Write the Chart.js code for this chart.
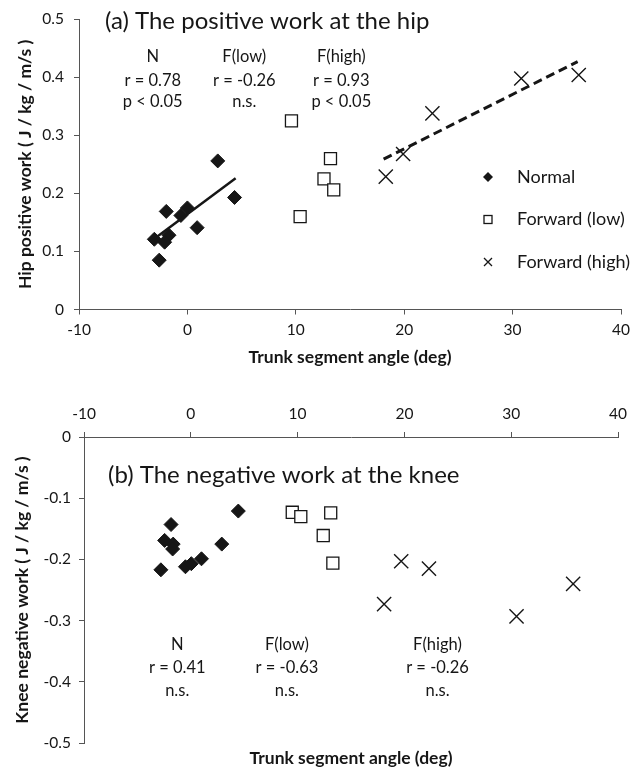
<!DOCTYPE html>
<html>
<head>
<meta charset="utf-8">
<script src="https://cdn.jsdelivr.net/npm/chart.js@4/dist/chart.umd.min.js"></script>
<style>
  body { margin: 0; background: #fff; overflow: hidden; }
  .container1 { position: absolute; left: 0; top: 0; width: 640px; height: 372px; }
  .container2 { position: absolute; left: 0; top: 372px; width: 640px; height: 396px; }
</style>
</head>
<body>
<div class="container1"><canvas class="container1__chart"></canvas></div>
<div class="container2"><canvas class="container2__chart"></canvas></div>
<script>
// ---- data ----
const xTicks = [-10, 0, 10, 20, 30, 40];
const hipTicks = [0, 0.1, 0.2, 0.3, 0.4, 0.5];
const kneeTicks = [-0.5, -0.4, -0.3, -0.2, -0.1, 0];

// (a) hip positive work
const hipNormalX = [2.8, 4.35, -1.95, 0.0, -0.6, 0.9, -3.05, -1.7, -2.1, -2.6];
const hipNormalY = [0.256, 0.193, 0.169, 0.175, 0.162, 0.141, 0.121, 0.128, 0.116, 0.085];
const hipLowX = [9.6, 13.2, 12.6, 13.5, 10.4];
const hipLowY = [0.325, 0.260, 0.225, 0.206, 0.160];
const hipHighX = [18.3, 19.9, 22.6, 30.8, 36.1];
const hipHighY = [0.229, 0.268, 0.338, 0.398, 0.404];
const hipNormalFitX = [-3.05, 4.45];
const hipNormalFitY = [0.122, 0.226];
const hipHighFitX = [18.1, 36.0];
const hipHighFitY = [0.259, 0.427];

// (b) knee negative work
const kneeNormalX = [4.45, -1.85, -2.45, -1.65, -1.7, -2.8, -0.5, 0.05, 1.0, 2.9];
const kneeNormalY = [-0.121, -0.143, -0.169, -0.175, -0.183, -0.217, -0.212, -0.207, -0.199, -0.175];
const kneeLowX = [9.5, 10.3, 13.1, 12.4, 13.3];
const kneeLowY = [-0.123, -0.130, -0.124, -0.161, -0.206];
const kneeHighX = [19.7, 22.3, 18.1, 30.5, 35.8];
const kneeHighY = [-0.203, -0.215, -0.273, -0.293, -0.240];

// statistics text
const groupNames = ['N', 'F(low)', 'F(high)'];
const hipStats = [['r = 0.78', 'p < 0.05'], ['r = -0.26', 'n.s.'], ['r = 0.93', 'p < 0.05']];
const kneeStats = [['r = 0.41', 'n.s.'], ['r = -0.63', 'n.s.'], ['r = -0.26', 'n.s.']];
const legendNames = ['Normal', 'Forward (low)', 'Forward (high)'];

// ---- helpers ----
const ink = '#161616';
const axisColor = '#555';
Chart.defaults.font.family = 'Lato, "Open Sans", sans-serif';
Chart.defaults.color = ink;

const pts = (xs, ys) => xs.map((v, i) => ({x: v, y: ys[i]}));
const setTicks = list => scale => { scale.ticks = list.map(v => ({value: v})); };

function groupSets(nx, ny, lx, ly, hx, hy) {
  return [
    {label: legendNames[0], data: pts(nx, ny), pointStyle: 'rectRot', pointRadius: 7,
     backgroundColor: ink, borderColor: ink, borderWidth: 1},
    {label: legendNames[1], data: pts(lx, ly), pointStyle: 'rect', pointRadius: 8.5,
     backgroundColor: '#fff', borderColor: ink, borderWidth: 1.3},
    {label: legendNames[2], data: pts(hx, hy), pointStyle: 'crossRot', pointRadius: 10,
     backgroundColor: ink, borderColor: ink, borderWidth: 1.4},
  ];
}

function marker(ctx, kind, x, y) {
  ctx.beginPath();
  if (kind === 0) {
    ctx.moveTo(x, y - 5); ctx.lineTo(x + 5, y); ctx.lineTo(x, y + 5); ctx.lineTo(x - 5, y);
    ctx.closePath(); ctx.fill();
  } else if (kind === 1) {
    ctx.lineWidth = 1.3; ctx.strokeRect(x - 4, y - 4, 8, 8);
  } else {
    ctx.lineWidth = 1.3;
    ctx.moveTo(x - 4, y - 4); ctx.lineTo(x + 4, y + 4);
    ctx.moveTo(x + 4, y - 4); ctx.lineTo(x - 4, y + 4); ctx.stroke();
  }
}

// titles, r/p values and the in-plot legend
const notes = {
  id: 'notes',
  afterDraw(chart, args, o) {
    const {ctx} = chart;
    const {x, y} = chart.scales;
    ctx.save();
    ctx.fillStyle = ink;
    ctx.strokeStyle = ink;
    ctx.textBaseline = 'middle';
    ctx.textAlign = 'left';
    ctx.font = '24px Lato';
    ctx.fillText(o.title, o.titleX, o.titleY);

    ctx.font = '16.5px Lato';
    ctx.textAlign = 'center';
    o.stats.forEach((lines, i) => {
      const px = x.getPixelForValue(o.colX[i]);
      [groupNames[i], ...lines].forEach((t, j) => ctx.fillText(t, px, y.getPixelForValue(o.rowY[j])));
    });

    if (o.legend) {
      ctx.font = '18px Lato';
      ctx.textAlign = 'left';
      legendNames.forEach((t, i) => {
        const ly = o.legend.y + i * o.legend.gap;
        marker(ctx, i, o.legend.x, ly);
        ctx.fillText(t, o.legend.x + 29, ly);
      });
    }
    ctx.restore();
  }
};

const tickFont = {size: 15.5};
const titleFont = {size: 17.5, weight: 'bold'};

// chart (a)
const chart1 = document.querySelector('.container1__chart');
new Chart(chart1, {
  type: 'scatter',
  data: {
    datasets: [
      {data: pts(hipNormalFitX, hipNormalFitY), showLine: true, pointRadius: 0,
       borderColor: ink, borderWidth: 2.5},
      {data: pts(hipHighFitX, hipHighFitY), showLine: true, pointRadius: 0,
       borderColor: ink, borderWidth: 3, borderDash: [9, 5]},
      ...groupSets(hipNormalX, hipNormalY, hipLowX, hipLowY, hipHighX, hipHighY),
    ],
  },
  options: {
    responsive: true,
    maintainAspectRatio: false,
    animation: false,
    events: [],
    layout: {padding: {top: 17, right: 19, left: 0, bottom: 0}},
    plugins: {
      legend: {display: false},
      tooltip: {enabled: false},
      notes: {
        title: '(a) The positive work at the hip', titleX: 105, titleY: 21,
        stats: hipStats, colX: [-3.2, 5.25, 14.2], rowY: [0.435, 0.395, 0.358],
        legend: {x: 488, y: 177, gap: 42.5},
      },
    },
    scales: {
      x: {
        type: 'linear', position: 'bottom', min: -10, max: 40,
        afterBuildTicks: setTicks(xTicks),
        afterFit: s => { s.height = 62.5; },
        ticks: {font: tickFont, padding: 6, maxRotation: 0},
        grid: {drawOnChartArea: false, tickLength: 5, color: axisColor},
        border: {color: axisColor},
        title: {display: true, text: 'Trunk segment angle (deg)', font: titleFont, padding: {top: 0, bottom: 4.5}},
      },
      y: {
        type: 'linear', min: 0, max: 0.5,
        afterBuildTicks: setTicks(hipTicks),
        afterFit: s => { s.width = 79; },
        ticks: {font: tickFont, padding: 10},
        grid: {drawOnChartArea: false, tickLength: 5, color: axisColor},
        border: {color: axisColor},
        title: {display: true, text: 'Hip positive work ( J / kg / m/s )', font: titleFont, padding: {top: 15, bottom: 0}},
      },
    },
  },
  plugins: [notes],
});

// chart (b)
const chart2 = document.querySelector('.container2__chart');
new Chart(chart2, {
  type: 'scatter',
  data: {
    datasets: groupSets(kneeNormalX, kneeNormalY, kneeLowX, kneeLowY, kneeHighX, kneeHighY),
  },
  options: {
    responsive: true,
    maintainAspectRatio: false,
    animation: false,
    events: [],
    layout: {padding: {top: 0, right: 22, left: 0, bottom: 0}},
    plugins: {
      legend: {display: false},
      tooltip: {enabled: false},
      notes: {
        title: '(b) The negative work at the knee', titleX: 108, titleY: 103,
        stats: kneeStats, colX: [-1.27, 9.0, 23.1], rowY: [-0.340, -0.377, -0.414],
      },
    },
    scales: {
      x: {
        type: 'linear', position: 'top', min: -10, max: 40,
        afterBuildTicks: setTicks(xTicks),
        afterFit: s => { s.height = 65; },
        ticks: {font: tickFont, padding: 9, maxRotation: 0},
        grid: {drawOnChartArea: false, tickLength: 5, color: axisColor},
        border: {color: axisColor},
      },
      xb: {
        type: 'linear', position: 'bottom', min: -10, max: 40,
        afterFit: s => { s.height = 25; },
        ticks: {display: false},
        grid: {display: false},
        border: {display: false},
        title: {display: true, text: 'Trunk segment angle (deg)', font: {...titleFont, lineHeight: 1}, padding: {top: 0, bottom: 1}},
      },
      y: {
        type: 'linear', min: -0.5, max: 0,
        afterBuildTicks: setTicks(kneeTicks),
        afterFit: s => { s.width = 84; },
        ticks: {font: tickFont, padding: 8},
        grid: {drawOnChartArea: false, tickLength: 5, color: axisColor},
        border: {color: axisColor},
        title: {display: true, text: 'Knee negative work ( J / kg / m/s )', font: titleFont, padding: {top: 12, bottom: 0}},
      },
    },
  },
  plugins: [notes],
});
</script>
</body>
</html>
